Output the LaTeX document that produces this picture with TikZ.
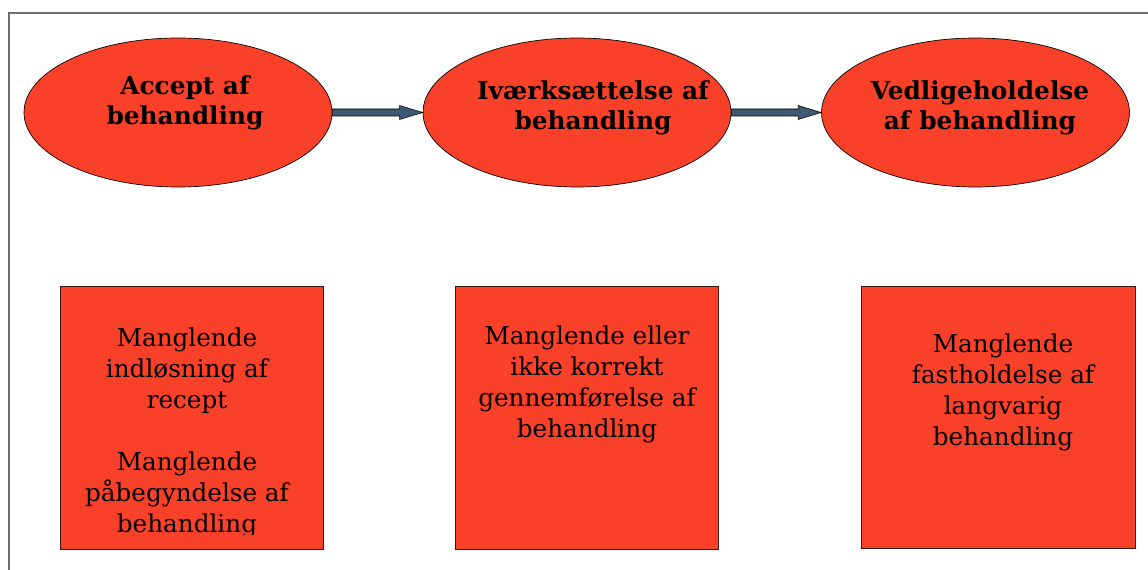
\documentclass[tikz,border=0pt]{standalone}
\usepackage{fontspec}
\setmainfont{DejaVu Serif}
\usetikzlibrary{shapes.geometric,calc}
\definecolor{stagefill}{RGB}{249,64,40}
\definecolor{arrowfill}{RGB}{62,90,115}
\definecolor{framegray}{RGB}{110,110,110}
\definecolor{boxline}{RGB}{60,25,20}
\begin{document}
\begin{tikzpicture}[x=0.75pt,y=-0.75pt,
  stage/.style={ellipse, draw=black, line width=0.5pt, fill=stagefill,
    minimum width=231pt, minimum height=111.75pt, inner sep=0pt},
  stagetext/.style={font=\bfseries\fontsize{18.6pt}{22.5pt}\selectfont,
    align=center, inner sep=0pt, anchor=base},
  issue/.style={rectangle, draw=boxline, line width=0.75pt, fill=stagefill,
    inner sep=0pt},
  issuetext/.style={font=\fontsize{18.5pt}{23.25pt}\selectfont,
    align=center, inner sep=0pt, anchor=base},
  flow/.style={draw=black, line width=0.4pt, fill=arrowfill}
]
\useasboundingbox (0,0) rectangle (1148,570);
\clip (0,0) rectangle (1148,570);

% outer frame
\draw[framegray, line width=0.9pt] (9,600) -- (9,13) -- (1200,13);

% phases (text anchored on the baseline of the last line)
\node[stage] (e1) at (178,112.5) {};
\node[stage] (e2) at (577,112.5) {};
\node[stage] (e3) at (975.5,112.5) {};
\node[stagetext] (t1) at (185,125) {Accept af\\behandling};
\node[stagetext] (t2) at (593,130) {Iværksættelse af\\behandling};
\node[stagetext] (t3) at (980,130) {Vedligeholdelse\\af behandling};

% block arrows between phases
\draw[flow] ($(e1.east)+(0,-3.5)$) -- ($(e2.west)+(-23,-3.5)$)
  -- ($(e2.west)+(-23,-7)$) -- (e2.west) -- ($(e2.west)+(-23,7)$)
  -- ($(e2.west)+(-23,3.5)$) -- ($(e1.east)+(0,3.5)$) -- cycle;
\draw[flow] ($(e2.east)+(0,-3.5)$) -- ($(e3.west)+(-23,-3.5)$)
  -- ($(e3.west)+(-23,-7)$) -- (e3.west) -- ($(e3.west)+(-23,7)$)
  -- ($(e3.west)+(-23,3.5)$) -- ($(e2.east)+(0,3.5)$) -- cycle;

% barriers
\node[issue, minimum width=197.25pt, minimum height=197.25pt] (b1) at (191.5,417.5) {};
\node[issue, minimum width=197.25pt, minimum height=197.25pt] (b2) at (586.5,417.5) {};
\node[issue, minimum width=205.5pt, minimum height=196.5pt] (b3) at (998,417) {};

\begin{scope}
  \clip (b1.north west) rectangle ($(b1.south east)+(0,-15)$);
  \node[issuetext] (bt1) at (187,532) {Manglende\\indløsning af\\recept\\[23.25pt]Manglende\\påbegyndelse af\\behandling};
\end{scope}
\node[issuetext] (bt2) at (587,437) {Manglende eller\\ikke korrekt\\gennemførelse af\\behandling};
\node[issuetext] (bt3) at (1003,445) {Manglende\\fastholdelse af\\langvarig\\behandling};
\end{tikzpicture}
\end{document}
